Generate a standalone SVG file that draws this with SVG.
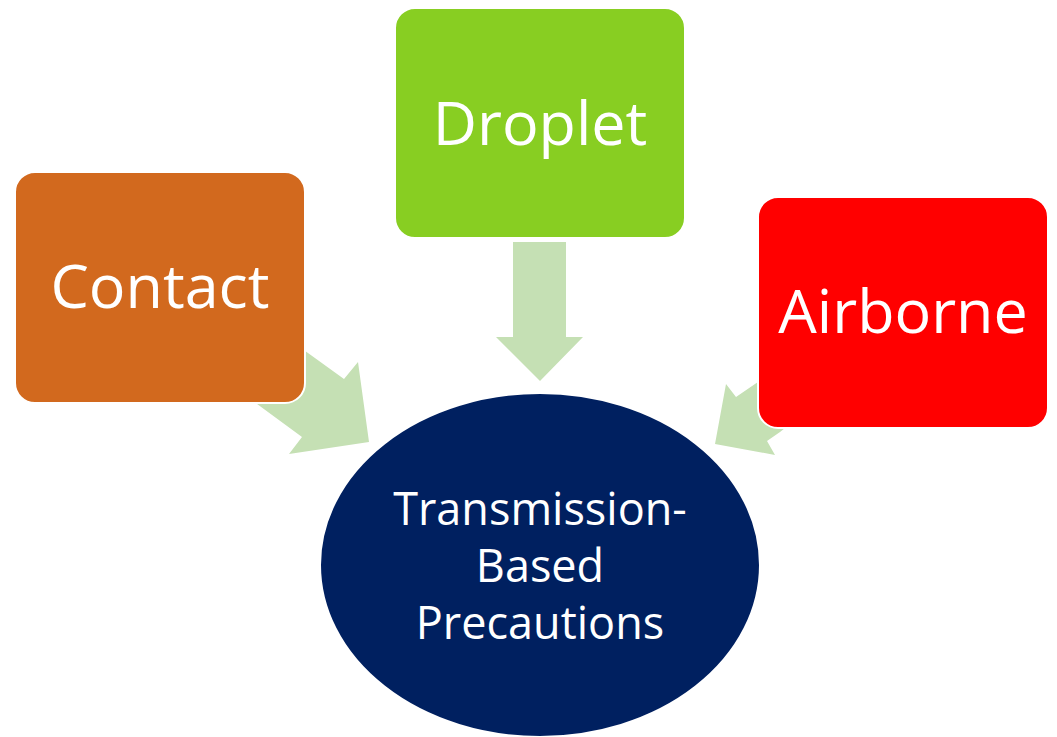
<svg xmlns="http://www.w3.org/2000/svg" width="1057" height="737" viewBox="0 0 1057 737">
<style>
.arrow{fill:#C5E0B4;stroke:none}
.box{stroke:#ffffff;stroke-width:2}
.lbl{font-family:"Open Sans","Noto Sans",sans-serif;fill:#ffffff;text-anchor:middle}
.big{font-size:61px}
.small{font-size:45px}
</style>
<rect width="1057" height="737" fill="#ffffff"/>
<g id="connectors">
<polygon class="arrow" points="272,327 344,379 358,362 369,442 289,454 302,437 226,381"/>
<polygon class="arrow" points="513,242 566,242 566,337 583,337 540,381 496,337 513,337"/>
<polygon class="arrow" points="790,360 818,402 780,432 767,441 775,455 715,444 726,384 736,397 755,384"/>
</g>
<g id="contact">
<rect class="box" x="15" y="172" width="290" height="231" rx="20" fill="#D2691E"/>
<text class="lbl big" x="160" y="308">Contact</text>
</g>
<g id="droplet">
<rect class="box" x="395" y="8" width="290" height="230" rx="20" fill="#88CE22"/>
<text class="lbl big" x="540" y="145">Droplet</text>
</g>
<g id="airborne">
<rect class="box" x="758" y="197" width="290" height="231" rx="20" fill="#FF0000"/>
<text class="lbl big" x="903" y="333">Airborne</text>
</g>
<g id="precautions">
<ellipse cx="540" cy="565" rx="220" ry="172" fill="#002060" stroke="#ffffff" stroke-width="2"/>
<text class="lbl small" x="540" y="525">Transmission-</text>
<text class="lbl small" x="540" y="582">Based</text>
<text class="lbl small" x="540" y="639">Precautions</text>
</g>
</svg>
